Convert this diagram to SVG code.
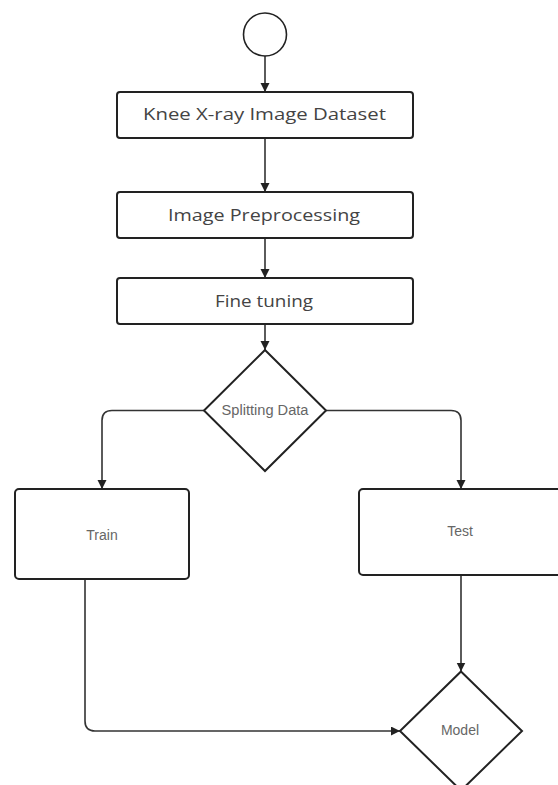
<svg xmlns="http://www.w3.org/2000/svg" width="558" height="785" viewBox="0 0 558 785">
<style>
.node{fill:#fff;stroke:#222;stroke-width:2}
.edge{fill:none;stroke:#333;stroke-width:1.6}
.t1{font-family:"Open Sans","Liberation Sans",sans-serif;font-size:17px;fill:#444;text-anchor:middle}
.t2{font-family:"Liberation Sans",Arial,sans-serif;font-size:14px;fill:#666;text-anchor:middle}
</style>
<defs>
<marker id="arr" markerUnits="userSpaceOnUse" markerWidth="10" markerHeight="10" refX="9" refY="4.5" orient="auto">
<path d="M0,0 L9,4.5 L0,9 z" fill="#222"/>
</marker>
</defs>
<rect width="558" height="785" fill="#fff"/>
<g id="connectors">
<line class="edge" x1="265" y1="56" x2="265" y2="92" marker-end="url(#arr)"/>
<line class="edge" x1="265" y1="138" x2="265" y2="192" marker-end="url(#arr)"/>
<line class="edge" x1="265" y1="238" x2="265" y2="278" marker-end="url(#arr)"/>
<line class="edge" x1="265" y1="324" x2="265" y2="350" marker-end="url(#arr)"/>
<path class="edge" d="M204,410.5 H112 Q102,410.5 102,420.5 V489" marker-end="url(#arr)"/>
<path class="edge" d="M326,410.5 H451 Q461,410.5 461,420.5 V489" marker-end="url(#arr)"/>
<line class="edge" x1="461" y1="575" x2="461" y2="671.5" marker-end="url(#arr)"/>
<path class="edge" d="M85,579 V721 Q85,731 95,731 H400" marker-end="url(#arr)"/>
</g>
<g id="start">
<circle cx="265" cy="34.5" r="21.5" fill="#fff" stroke="#222" stroke-width="1.6"/>
</g>
<g id="dataset">
<rect class="node" x="117" y="92" width="296" height="46" rx="3"/>
<text class="t1" x="264.5" y="120" textLength="243" lengthAdjust="spacingAndGlyphs">Knee X-ray Image Dataset</text>
</g>
<g id="preprocessing">
<rect class="node" x="117" y="192" width="296" height="46" rx="3"/>
<text class="t1" x="264" y="221" textLength="192" lengthAdjust="spacingAndGlyphs">Image Preprocessing</text>
</g>
<g id="finetuning">
<rect class="node" x="117" y="278" width="296" height="46" rx="3"/>
<text class="t1" x="264" y="307" textLength="98" lengthAdjust="spacingAndGlyphs">Fine tuning</text>
</g>
<g id="splitting">
<polygon class="node" points="265,350 326,410.5 265,471 204,410.5"/>
<text class="t2" x="265" y="415" textLength="87" lengthAdjust="spacingAndGlyphs">Splitting Data</text>
</g>
<g id="train">
<rect class="node" x="15" y="489" width="174" height="90" rx="4"/>
<text class="t2" x="102" y="540">Train</text>
</g>
<g id="test">
<rect class="node" x="359" y="489" width="205" height="86" rx="4"/>
<text class="t2" x="460" y="536">Test</text>
</g>
<g id="model">
<polygon class="node" points="461,671.5 522,731 461,790.5 400,731"/>
<text class="t2" x="460" y="735">Model</text>
</g>
</svg>
